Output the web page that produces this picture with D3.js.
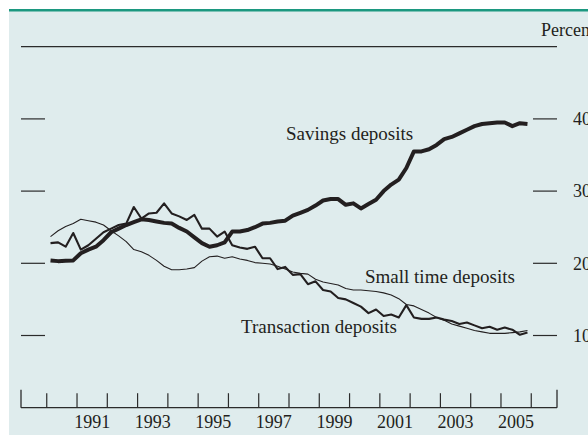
<!DOCTYPE html>
<html>
<head>
<meta charset="utf-8">
<script src="https://cdn.jsdelivr.net/npm/d3@7"></script>
<style>
  body { margin: 0; background: #fff; }
  text { font-family: "Liberation Serif", "Times New Roman", serif; fill: #231f20; }
</style>
</head>
<body>
<div id="chart"></div>
<script>
// quarterly shares, percent, 1990:Q1 - 2005:Q4
var startYear = 1990;
var savings = [20.4, 20.3, 20.35, 20.4, 21.4, 21.9, 22.3, 23.2, 24.3, 24.8, 25.3, 25.7, 26.1, 26.0, 25.8, 25.6,
  25.5, 24.9, 24.4, 23.6, 22.8, 22.3, 22.5, 22.9, 24.4, 24.4, 24.6, 25.0, 25.5, 25.6, 25.8, 25.9,
  26.6, 27.0, 27.4, 28.0, 28.7, 28.9, 28.9, 28.1, 28.3, 27.6, 28.2, 28.8, 30.0, 30.9, 31.6, 33.2,
  35.5, 35.5, 35.8, 36.4, 37.2, 37.5, 38.0, 38.5, 39.0, 39.3, 39.4, 39.5, 39.5, 39.0, 39.4, 39.3];
var transaction = [22.8, 22.9, 22.3, 24.2, 21.9, 22.5, 23.4, 24.3, 24.8, 25.3, 25.5, 27.8, 26.2, 26.9, 27.0, 28.3,
  26.9, 26.5, 26.0, 26.7, 24.8, 24.8, 23.7, 24.4, 22.5, 22.2, 22.0, 22.3, 20.7, 20.7, 19.2, 19.5,
  18.4, 18.5, 17.1, 17.5, 16.3, 16.1, 15.2, 15.0, 14.5, 14.0, 13.1, 13.6, 12.7, 12.9, 12.5, 14.2,
  12.5, 12.3, 12.3, 12.5, 12.2, 12.0, 11.6, 11.8, 11.4, 11.0, 11.2, 10.8, 11.1, 10.8, 10.1, 10.4];
var smallTime = [23.7, 24.5, 25.1, 25.5, 26.1, 25.9, 25.7, 25.3, 24.5, 23.8, 23.0, 21.9, 21.6, 21.1, 20.4, 19.6,
  19.1, 19.1, 19.2, 19.4, 20.3, 20.9, 21.0, 20.7, 20.9, 20.6, 20.4, 20.1, 20.0, 19.9, 19.6, 19.2,
  18.8, 18.6, 18.5, 17.8, 17.4, 17.2, 17.0, 16.5, 16.3, 16.3, 16.2, 16.1, 15.9, 15.6, 15.1, 14.3,
  14.1, 13.6, 13.1, 12.5, 12.1, 11.6, 11.3, 11.0, 10.7, 10.5, 10.3, 10.3, 10.3, 10.4, 10.5, 10.7];

var yTicks = [10, 20, 30, 40];
var yearTicks = d3.range(1990, 2007);
var yearLabels = [1991, 1993, 1995, 1997, 1999, 2001, 2003, 2005];

var width = 588, height = 435;

var svg = d3.select("#chart").append("svg")
  .attr("width", width)
  .attr("height", height);

// panel
svg.append("rect").attr("x", 9).attr("y", 9).attr("width", width - 9).attr("height", height - 9)
  .attr("fill", "#dfeced");
svg.append("rect").attr("x", 9).attr("y", 9).attr("width", width - 9).attr("height", 2.5)
  .attr("fill", "#1c9880");

var x = d3.scaleLinear().domain([1989.15, 2006.85]).range([21, 557]);
var y = d3.scaleLinear().domain([0, 50]).range([407.7, 46.7]);

var ink = "#2b2b2b";

// top rule
svg.append("line")
  .attr("x1", x(1989.15)).attr("x2", x(2006.85))
  .attr("y1", y(50)).attr("y2", y(50))
  .attr("stroke", ink).attr("stroke-width", 1.3);

svg.append("text").attr("x", 541).attr("y", 36)
  .style("font-size", "18px").text("Percent");

// side ticks
var side = svg.append("g");
side.selectAll(".lt").data(yTicks).enter().append("line")
  .attr("x1", 21).attr("x2", 45)
  .attr("y1", d => y(d)).attr("y2", d => y(d))
  .attr("stroke", ink).attr("stroke-width", 1.2);
side.selectAll(".rt").data(yTicks).enter().append("line")
  .attr("x1", 533).attr("x2", 557)
  .attr("y1", d => y(d)).attr("y2", d => y(d))
  .attr("stroke", ink).attr("stroke-width", 1.2);
side.selectAll("text").data(yTicks).enter().append("text")
  .attr("x", 573).attr("y", d => y(d)).attr("dy", "0.35em")
  .style("font-size", "18px")
  .text(d => d);

// x axis
var xa = svg.append("g");
xa.append("line")
  .attr("x1", x(1989.15)).attr("x2", x(2006.85))
  .attr("y1", y(0)).attr("y2", y(0))
  .attr("stroke", ink).attr("stroke-width", 1.3);
xa.selectAll(".yt").data(yearTicks).enter().append("line")
  .attr("x1", d => x(d)).attr("x2", d => x(d))
  .attr("y1", y(0)).attr("y2", y(0) - 14.5)
  .attr("stroke", ink).attr("stroke-width", 1.2);
xa.selectAll(".et").data([1989.15, 2006.85]).enter().append("line")
  .attr("x1", d => x(d)).attr("x2", d => x(d))
  .attr("y1", y(0)).attr("y2", y(0) - 18)
  .attr("stroke", ink).attr("stroke-width", 1.3);
xa.selectAll("text").data(yearLabels).enter().append("text")
  .attr("x", d => x(d + 0.5)).attr("y", 428)
  .attr("text-anchor", "middle")
  .style("font-size", "18px")
  .text(d => d);

// series
var line = d3.line()
  .x((d, i) => x(startYear + i / 4 + 0.125))
  .y(d => y(d));

var series = [
  { values: smallTime, w: 1.1 },
  { values: transaction, w: 2.1 },
  { values: savings, w: 4 }
];
svg.selectAll(".series").data(series).enter().append("path")
  .attr("d", d => line(d.values))
  .attr("fill", "none")
  .attr("stroke", "#231f20")
  .attr("stroke-width", d => d.w)
  .attr("stroke-linejoin", "round");

// labels
svg.append("text").attr("x", 286).attr("y", 140).style("font-size", "19px").text("Savings deposits");
svg.append("text").attr("x", 365).attr("y", 283).style("font-size", "19px").text("Small time deposits");
svg.append("text").attr("x", 397).attr("y", 333).attr("text-anchor", "end")
  .style("font-size", "19px").text("Transaction deposits");
</script>
</body>
</html>
